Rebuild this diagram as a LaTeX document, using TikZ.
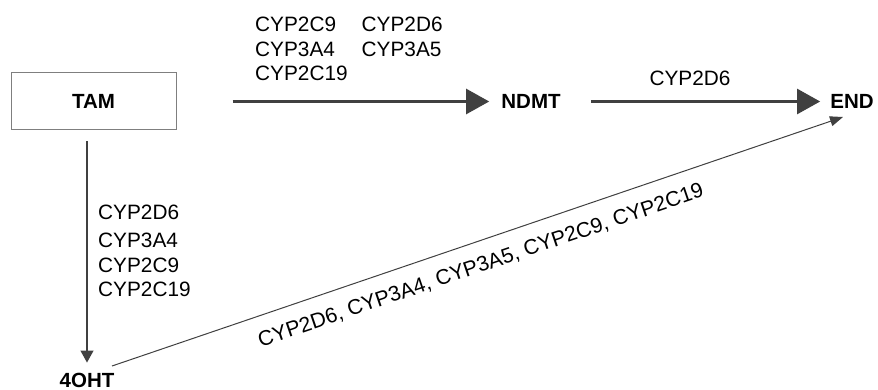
\documentclass[tikz,border=0pt]{standalone}
\usepackage{fontspec}
\setmainfont{Liberation Sans}
\usetikzlibrary{arrows.meta,calc}
\definecolor{arrowgray}{HTML}{404040}
\definecolor{boxgray}{HTML}{7F7F7F}
\begin{document}
\begin{tikzpicture}[x=1pt,y=-1pt,
  lbl/.style={font=\fontsize{20.8}{24.5}\selectfont, inner sep=0pt},
  diaglbl/.style={font=\fontsize{21.2}{25}\selectfont, inner sep=0pt},
  chem/.style={font=\fontsize{20.5}{24}\selectfont\bfseries, inner sep=0pt},
  bigarrow/.style={draw=arrowgray, line width=2.4pt, -{Triangle[length=23pt,width=25pt]}},
  thinarrow/.style={draw=arrowgray, line width=1.2pt, -{Triangle[length=12pt,width=13pt]}},
  diagarrow/.style={draw=arrowgray, line width=1pt, -{Triangle[length=13pt,width=10pt]}}
]
\useasboundingbox (0,0) rectangle (878,390);
\node[draw=boxgray, line width=1pt, minimum width=165pt, minimum height=57pt,
      font=\fontsize{20.5}{24}\selectfont\bfseries] (tam) at (93.5,101.5) {TAM};
\node[chem] (ndmt) at (531,101.5) {NDMT};
\node[chem] (endn) at (852,101.5) {END};
\node[chem] (oht) at (87,380) {4OHT};
\coordinate (d1) at (112,366);
\coordinate (d2) at (843,117);
% arrows
\draw[bigarrow, shorten <=56pt, shorten >=12pt] (tam.east) -- (ndmt.west);
\draw[bigarrow, shorten <=30pt, shorten >=10pt] (ndmt.east) -- (endn.west);
\draw[thinarrow, shorten <=11pt, shorten >=10pt] (tam.south -| oht.north) -- (oht.north);
\draw[diagarrow] (d1) -- (d2);
\node[diaglbl, rotate=18.8] (diag) at (481,266) {CYP2D6, CYP3A4, CYP3A5, CYP2C9, CYP2C19};
% labels
\node[lbl, anchor=base west] (top) at (255,32) {\begin{tabular}[t]{@{}l@{\hspace{14pt}}l@{}}CYP2C9 & CYP2D6\\ CYP3A4 & CYP3A5\\ CYP2C19 & \end{tabular}};
\node[lbl] (c2d6) at (690,78) {CYP2D6};
\node[lbl, anchor=base west] (left) at (98,219) {\begin{tabular}[t]{@{}l@{}}CYP2D6\\[4pt] CYP3A4\\ CYP2C9\\ CYP2C19\end{tabular}};
\end{tikzpicture}
\end{document}
